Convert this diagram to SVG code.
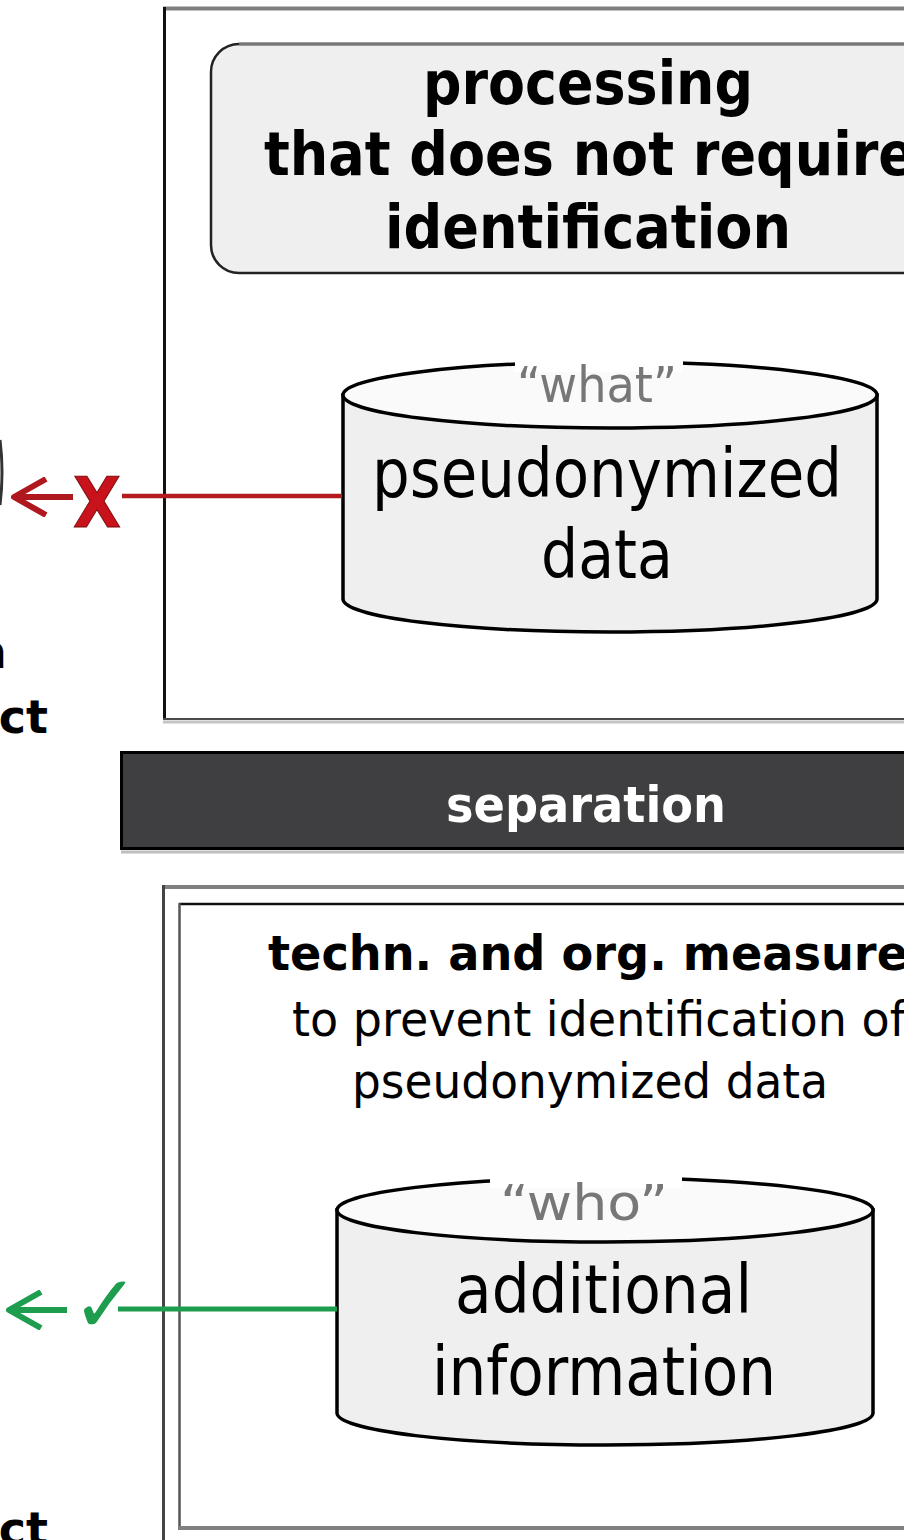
<svg xmlns="http://www.w3.org/2000/svg" width="904" height="1540" viewBox="0 0 904 1540">
<style>
.t{font-family:"DejaVu Sans","Liberation Sans",sans-serif;fill:#000}
.b{font-weight:bold}
.hd{font-size:60px}
.cy{font-size:68px}
.lb{font-size:50px;fill:#777}
.bd{font-size:48px}
.sep{font-size:50px;font-weight:bold;fill:#fff}
.cyl{stroke:#000;stroke-width:3.5}
</style>
<defs>
<marker id="arrRed" markerUnits="userSpaceOnUse" viewBox="0 0 40 40" refX="35" refY="20" markerWidth="40" markerHeight="40" orient="auto">
<path d="M3,2 L35,20 L3,38" fill="none" stroke="#b01820" stroke-width="6" stroke-linejoin="round"/>
</marker>
<marker id="arrGreen" markerUnits="userSpaceOnUse" viewBox="0 0 40 40" refX="35" refY="20" markerWidth="40" markerHeight="40" orient="auto">
<path d="M3,2 L35,20 L3,38" fill="none" stroke="#1f9d4f" stroke-width="6" stroke-linejoin="round"/>
</marker>
</defs>
<rect width="904" height="1540" fill="#fff"/>

<g id="left-fragments">
<path d="M0,440 Q4,472 0,505" fill="none" stroke="#333" stroke-width="3"/>
<text class="t b" x="-26" y="668" font-size="46">n</text>
<text class="t b" x="48" y="733" font-size="46" text-anchor="end">ct</text>
<text class="t b" x="48" y="1545" font-size="46" text-anchor="end">ct</text>
</g>

<g id="top-frame">
<rect x="164" y="9" width="760" height="710" fill="#fff"/>
<line x1="163" y1="8.5" x2="904" y2="8.5" stroke="#808080" stroke-width="4"/>
<line x1="164.5" y1="7" x2="164.5" y2="720" stroke="#111" stroke-width="3"/>
<line x1="163" y1="719" x2="904" y2="719" stroke="#4a4a4a" stroke-width="2"/>
<line x1="163" y1="722" x2="904" y2="722" stroke="#c4c4c4" stroke-width="3"/>
</g>

<g id="processing-box">
<rect x="211" y="44" width="760" height="229" rx="28" fill="#efefef" stroke="#222" stroke-width="2.5"/>
<line x1="239" y1="44" x2="904" y2="44" stroke="#777" stroke-width="3"/>
<text class="t b hd" x="423" y="104" textLength="330" lengthAdjust="spacingAndGlyphs">processing</text>
<text class="t b hd" x="264" y="175" textLength="651" lengthAdjust="spacingAndGlyphs">that does not require</text>
<text class="t b hd" x="385" y="248" textLength="406" lengthAdjust="spacingAndGlyphs">identification</text>
</g>

<g id="pseudonymized-data">
<path class="cyl" d="M343,395 V599 A267,33 0 0 0 877,599 V395 Z" fill="#efefef"/>
<ellipse class="cyl" cx="610" cy="395" rx="267" ry="33" fill="#fafafa"/>
<rect x="515" y="354" width="168" height="18" fill="#fff"/>
<text class="t lb" x="517" y="402" textLength="160" lengthAdjust="spacingAndGlyphs">“what”</text>
<text class="t cy" x="372" y="497" textLength="470" lengthAdjust="spacingAndGlyphs">pseudonymized</text>
<text class="t cy" x="541" y="578" textLength="132" lengthAdjust="spacingAndGlyphs">data</text>
</g>

<g id="separation">
<rect x="121.5" y="752.5" width="800" height="96" fill="#3f3f41" stroke="#000" stroke-width="3"/>
<line x1="121" y1="852" x2="904" y2="852" stroke="#bdbdbd" stroke-width="3"/>
<text class="t sep" x="446" y="822" textLength="280" lengthAdjust="spacingAndGlyphs">separation</text>
</g>

<g id="measures-frame">
<rect x="163" y="887" width="760" height="660" fill="#fff"/>
<line x1="162" y1="887" x2="904" y2="887" stroke="#808080" stroke-width="4"/>
<line x1="163.5" y1="885" x2="163.5" y2="1540" stroke="#444" stroke-width="3"/>
<line x1="179" y1="904" x2="904" y2="904" stroke="#111" stroke-width="2.5"/>
<line x1="179.5" y1="903" x2="179.5" y2="1530" stroke="#555" stroke-width="2.5"/>
<line x1="178" y1="1528" x2="904" y2="1528" stroke="#808080" stroke-width="4"/>
<text class="t b bd" x="268" y="970" textLength="640" lengthAdjust="spacingAndGlyphs">techn. and org. measure</text>
<text class="t bd" x="292" y="1036" textLength="614" lengthAdjust="spacingAndGlyphs">to prevent identification of</text>
<text class="t bd" x="352" y="1098" textLength="476" lengthAdjust="spacingAndGlyphs">pseudonymized data</text>
</g>

<g id="additional-information">
<path class="cyl" d="M337,1210 V1413 A268,32 0 0 0 873,1413 V1210 Z" fill="#efefef"/>
<ellipse class="cyl" cx="605" cy="1210" rx="268" ry="32" fill="#fafafa"/>
<rect x="490" y="1168" width="192" height="20" fill="#fff"/>
<text class="t lb" x="500" y="1220" textLength="168" lengthAdjust="spacingAndGlyphs">“who”</text>
<text class="t cy" x="455" y="1313" textLength="297" lengthAdjust="spacingAndGlyphs">additional</text>
<text class="t cy" x="432" y="1395" textLength="344" lengthAdjust="spacingAndGlyphs">information</text>
</g>

<g id="connectors">
<line x1="342" y1="496" x2="122" y2="496" stroke="#b31b1f" stroke-width="4.5"/>
<text x="97" y="527" font-family="DejaVu Sans,sans-serif" font-weight="bold" font-size="70" fill="#c8121c" stroke="#7a0a0a" stroke-width="1" text-anchor="middle" textLength="48" lengthAdjust="spacingAndGlyphs">X</text>
<line x1="73" y1="497" x2="14" y2="497" stroke="#b01820" stroke-width="6" marker-end="url(#arrRed)"/>
<line x1="337" y1="1309" x2="118" y2="1309" stroke="#1f9d4f" stroke-width="5"/>
<text x="72" y="1332" font-family="DejaVu Sans,sans-serif" font-weight="bold" font-size="80" fill="#1f9d4f">✓</text>
<line x1="67" y1="1310" x2="9" y2="1310" stroke="#1f9d4f" stroke-width="6" marker-end="url(#arrGreen)"/>
</g>
</svg>
